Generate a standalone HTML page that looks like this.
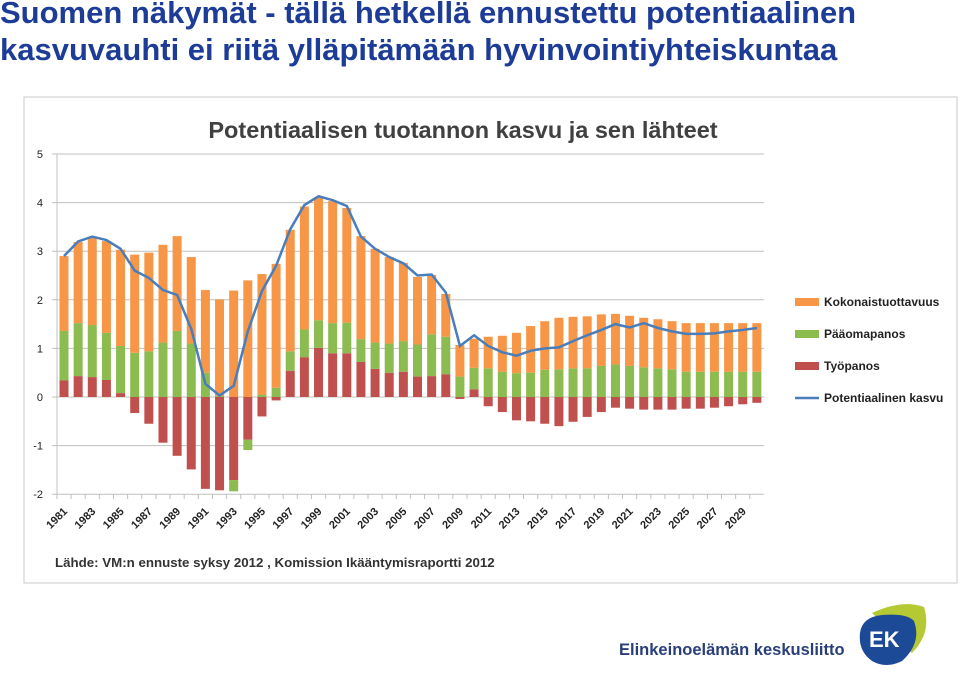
<!DOCTYPE html>
<html><head><meta charset="utf-8">
<style>
body{margin:0;width:960px;height:679px;background:#fff;overflow:hidden;font-family:"Liberation Sans",Arial,sans-serif;position:relative}
#title{position:absolute;left:0;top:-6px;font-size:31px;font-weight:bold;color:#1c3c98;line-height:37px;letter-spacing:0px}
#chart{position:absolute;left:0;top:0}
#brand{position:absolute;left:619px;top:641px;font-size:16.5px;font-weight:bold;color:#2a3f7a}
</style></head><body>
<div id="title">Suomen näkymät - tällä hetkellä ennustettu potentiaalinen<br>kasvuvauhti ei riitä ylläpitämään hyvinvointiyhteiskuntaa</div>
<svg id="chart" width="960" height="679"></svg>
<div id="brand">Elinkeinoelämän keskusliitto</div>
<svg style="position:absolute;left:852px;top:603px" width="78" height="66">
<path d="M20 10 Q50 -4 72 4 Q80 30 60 50 Z" fill="#b5c934"/>
<path d="M8 30 Q10 14 30 12 Q55 10 62 18 Q70 40 50 58 Q34 66 20 58 Q6 48 8 30Z" fill="#1d4a96"/>
<text x="17" y="44" font-family="Liberation Sans" font-weight="bold" font-size="22" fill="#fff">EK</text>
</svg>
<script>
const years=[];for(let y=1981;y<=2030;y++)years.push(y);
const labor=[0.34,0.43,0.41,0.35,0.08,-0.33,-0.55,-0.94,-1.21,-1.49,-1.89,-1.92,-1.71,-0.88,-0.40,-0.07,0.54,0.82,1.01,0.90,0.90,0.72,0.58,0.50,0.52,0.42,0.43,0.47,-0.04,0.16,-0.19,-0.31,-0.48,-0.50,-0.55,-0.60,-0.51,-0.41,-0.31,-0.22,-0.24,-0.26,-0.26,-0.26,-0.24,-0.24,-0.22,-0.19,-0.15,-0.12];
const capital=[1.02,1.09,1.07,0.97,0.97,0.91,0.94,1.12,1.36,1.10,0.50,0.02,-0.23,-0.21,0.05,0.19,0.40,0.57,0.57,0.62,0.63,0.47,0.54,0.60,0.63,0.66,0.86,0.77,0.42,0.44,0.59,0.52,0.49,0.50,0.56,0.57,0.59,0.59,0.64,0.67,0.64,0.61,0.59,0.57,0.52,0.52,0.52,0.52,0.52,0.52];
const tfp=[1.54,1.67,1.80,1.89,1.98,2.02,2.03,2.01,1.95,1.78,1.70,1.99,2.19,2.40,2.48,2.55,2.50,2.53,2.52,2.51,2.36,2.12,1.93,1.78,1.61,1.39,1.22,0.88,0.65,0.60,0.65,0.74,0.83,0.96,1.00,1.06,1.06,1.07,1.06,1.04,1.03,1.02,1.01,0.99,1.00,1.00,1.00,1.00,1.00,1.00];
const potential=[2.9,3.2,3.3,3.23,3.05,2.6,2.45,2.2,2.1,1.4,0.27,0.03,0.23,1.35,2.18,2.7,3.45,3.95,4.13,4.05,3.93,3.3,3.05,2.88,2.75,2.5,2.52,2.15,1.05,1.27,1.05,0.92,0.85,0.95,1.0,1.02,1.15,1.27,1.38,1.5,1.43,1.52,1.42,1.35,1.3,1.3,1.31,1.35,1.38,1.42];
const yTicks=[-2,-1,0,1,2,3,4,5];
const legendLabels=["Kokonaistuottavuus","Pääomapanos","Työpanos","Potentiaalinen kasvu"];
const NS="http://www.w3.org/2000/svg",svg=document.getElementById('chart');
function mk(t,a,p){const e=document.createElementNS(NS,t);for(const k in a)e.setAttribute(k,a[k]);(p||svg).appendChild(e);return e;}
const x0=57,step=14.14,bw=9;
const X=i=>x0+7+i*step, Y=v=>397-v*48.6;
let e=mk('rect',{x:24,y:97,width:933,height:486,fill:'#fff',stroke:'#c8c8c8'});

e=mk('text',{x:463,y:138,'text-anchor':'middle','font-size':23.5,'font-weight':'bold',fill:'#404040'});e.textContent='Potentiaalisen tuotannon kasvu ja sen lähteet';

yTicks.forEach(t=>{const l=mk('line',{x1:52,x2:764,y1:Y(t),y2:Y(t),stroke:'#c0c0c0'});

const tx=mk('text',{x:43,y:Y(t)+4,'text-anchor':'end','font-size':11,fill:'#222'});tx.textContent=t;
});
mk('line',{x1:57,x2:57,y1:Y(5),y2:Y(-2),stroke:'#c0c0c0'});
years.forEach((yr,i)=>{
 let pos=0,neg=0;
 [[labor[i],'#c0504d','bar-labor'],[capital[i],'#8cbb4f','bar-capital'],[tfp[i],'#f79646','bar-tfp']].forEach(([v,c,n])=>{
  let y1,y2; if(v>=0){y1=pos;y2=pos+v;pos=y2;}else{y1=neg;y2=neg+v;neg=y2;}
  const r=mk('rect',{x:X(i)-bw/2,y:Math.min(Y(y1),Y(y2)),width:bw,height:Math.abs(Y(y1)-Y(y2)),fill:c});
  
 });
 mk('line',{x1:X(i)-step/2,x2:X(i)-step/2,y1:494,y2:499,stroke:'#c0c0c0'});
 if(i%2==0){const t=mk('text',{x:X(i)+4,y:512,'text-anchor':'end','font-size':11,'font-weight':'bold',fill:'#222',transform:`rotate(-45 ${X(i)+4} 512)`});t.textContent=yr;
 }
});
const pl=mk('polyline',{points:potential.map((v,i)=>X(i)+','+Y(v)).join(' '),fill:'none',stroke:'#4a7ebb','stroke-width':2.5});

const lc=['#f79646','#8cbb4f','#c0504d','#4a7ebb'],ly=[302,334,366,398];
legendLabels.forEach((s,i)=>{
 const g=mk('g',{});
 if(i<3)mk('rect',{x:795,y:ly[i]-4,width:24,height:8,fill:lc[i]},g);else mk('line',{x1:795,x2:819,y1:ly[i],y2:ly[i],stroke:lc[i],'stroke-width':2.5},g);
 const t=mk('text',{x:824,y:ly[i]+4,'font-size':12,'font-weight':'bold',fill:'#222'},g);t.textContent=s;
});
e=mk('text',{x:55,y:567,'font-size':13.3,'font-weight':'bold',fill:'#333'});e.textContent='Lähde: VM:n ennuste syksy 2012 , Komission Ikääntymisraportti 2012';

</script>
</body></html>
